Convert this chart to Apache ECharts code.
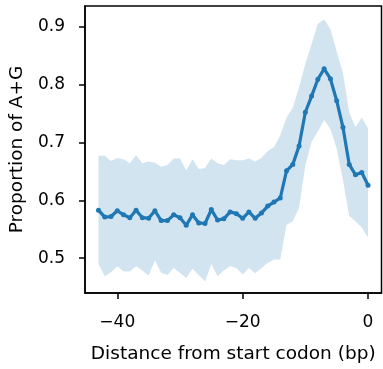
<!DOCTYPE html>
<html>
<head>
<meta charset="utf-8">
<script src="https://cdn.jsdelivr.net/npm/echarts@6/dist/echarts.min.js"></script>
<style>
  html, body { margin: 0; padding: 0; background: #fff; }
  #chart { width: 383px; height: 369px; }
</style>
</head>
<body>
<div id="chart"></div>
<script>
  // distance from start codon (bp)
  const positions = [-43, -42, -41, -40, -39, -38, -37, -36, -35, -34, -33, -32, -31, -30, -29,
    -28, -27, -26, -25, -24, -23, -22, -21, -20, -19, -18, -17, -16, -15, -14, -13, -12, -11,
    -10, -9, -8, -7, -6, -5, -4, -3, -2, -1, 0];
  const meanAG = [0.583, 0.571, 0.572, 0.582, 0.575, 0.570, 0.583, 0.570, 0.569, 0.582, 0.565,
    0.565, 0.575, 0.570, 0.557, 0.575, 0.561, 0.560, 0.584, 0.566, 0.568, 0.580, 0.577, 0.569,
    0.580, 0.569, 0.578, 0.590, 0.597, 0.604, 0.651, 0.662, 0.694, 0.752, 0.780, 0.809, 0.827,
    0.810, 0.772, 0.726, 0.662, 0.644, 0.648, 0.626];
  const upperAG = [0.677, 0.677, 0.668, 0.673, 0.671, 0.664, 0.678, 0.664, 0.667, 0.665, 0.658,
    0.661, 0.672, 0.672, 0.652, 0.671, 0.654, 0.656, 0.672, 0.664, 0.661, 0.671, 0.669, 0.669,
    0.672, 0.667, 0.673, 0.685, 0.692, 0.712, 0.743, 0.760, 0.795, 0.836, 0.870, 0.905, 0.912,
    0.896, 0.857, 0.820, 0.752, 0.726, 0.743, 0.724];
  const lowerAG = [0.490, 0.469, 0.476, 0.486, 0.477, 0.477, 0.486, 0.479, 0.470, 0.496, 0.475,
    0.471, 0.483, 0.475, 0.466, 0.482, 0.471, 0.460, 0.490, 0.469, 0.479, 0.486, 0.483, 0.472,
    0.483, 0.474, 0.483, 0.492, 0.498, 0.498, 0.558, 0.564, 0.587, 0.660, 0.701, 0.719, 0.739,
    0.723, 0.689, 0.635, 0.573, 0.564, 0.553, 0.536];
  const xTicks = [-40, -20, 0];
  const yTicks = [0.5, 0.6, 0.7, 0.8, 0.9];

  const blue = '#1f77b4';
  const font = 'DejaVu Sans';

  const chart = echarts.init(document.getElementById('chart'));

  const bandData = positions.map((x, i) => [x, lowerAG[i], upperAG[i]]);
  const meanData = positions.map((x, i) => [x, meanAG[i]]);

  // the shaded band is drawn once as one polygon: upper edge left->right, lower edge back
  const renderBand = (params, api) => {
    if (params.dataIndex !== 0) return null;
    const top = bandData.map(d => api.coord([d[0], d[2]]));
    const bottom = bandData.map(d => api.coord([d[0], d[1]])).reverse();
    return {
      type: 'polygon',
      shape: { points: top.concat(bottom) },
      style: { fill: blue, opacity: 0.2 },
      silent: true
    };
  };

  chart.setOption({
    animation: false,
    grid: {
      left: 84,
      right: 1.5,
      top: 6,
      bottom: 73,
      show: true,
      borderColor: '#000',
      borderWidth: 1.5,
      backgroundColor: 'transparent'
    },
    xAxis: {
      type: 'value',
      min: -45.15,
      max: 2.15,
      name: 'Distance from start codon (bp)',
      nameLocation: 'middle',
      nameGap: 52,
      nameTextStyle: { fontFamily: font, fontSize: 18.5, color: '#000' },
      axisLine: { show: true, onZero: false, lineStyle: { color: '#000', width: 1.5 } },
      axisTick: { show: true, customValues: xTicks, length: 6, lineStyle: { color: '#000', width: 1.5 } },
      axisLabel: {
        customValues: xTicks,
        margin: 21,
        fontFamily: font,
        fontSize: 17,
        color: '#000',
        formatter: v => String(v).replace('-', '\u2212')
      },
      splitLine: { show: false }
    },
    yAxis: {
      type: 'value',
      min: 0.440,
      max: 0.9355,
      name: 'Proportion of A+G',
      nameLocation: 'middle',
      nameGap: 58,
      nameTextStyle: { fontFamily: font, fontSize: 18.5, color: '#000' },
      axisLine: { show: true, onZero: false, lineStyle: { color: '#000', width: 1.5 } },
      axisTick: { show: true, customValues: yTicks, length: 6, lineStyle: { color: '#000', width: 1.5 } },
      axisLabel: {
        customValues: yTicks,
        margin: 20,
        fontFamily: font,
        fontSize: 17,
        color: '#000',
        formatter: v => v.toFixed(1)
      },
      splitLine: { show: false }
    },
    series: [
      {
        type: 'custom',
        data: bandData,
        encode: { x: 0, y: [1, 2] },
        renderItem: renderBand,
        silent: true,
        z: 1
      },
      {
        type: 'line',
        data: meanData,
        symbol: 'circle',
        symbolSize: 5,
        itemStyle: { color: blue },
        lineStyle: { color: blue, width: 3.2 },
        z: 5
      }
    ]
  });
</script>
</body>
</html>
